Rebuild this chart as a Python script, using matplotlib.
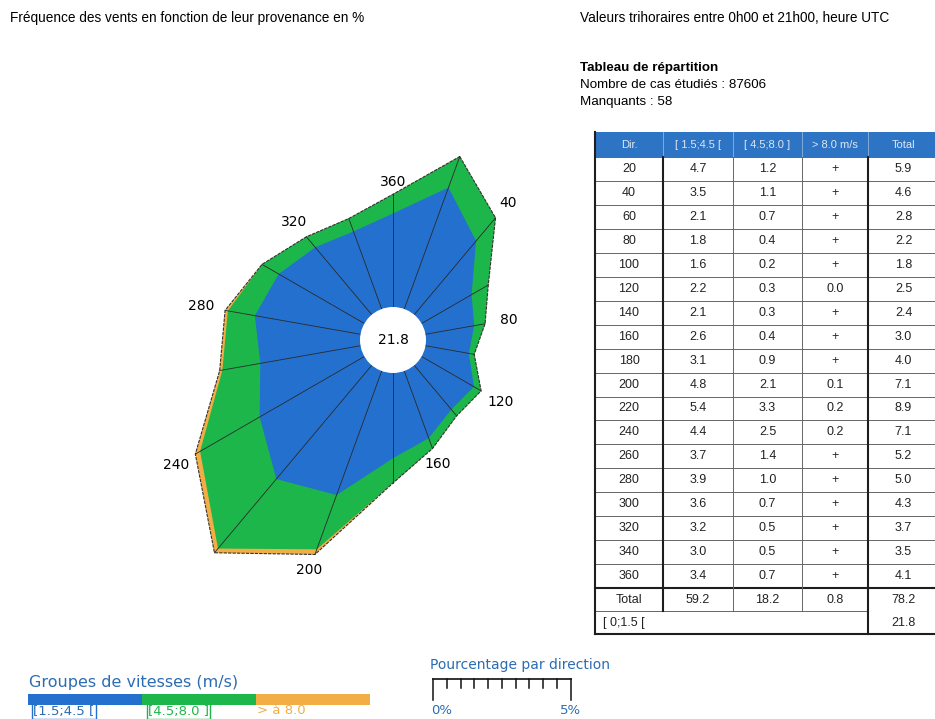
import numpy as np
import matplotlib.pyplot as plt
from matplotlib.patches import Polygon, Circle, Rectangle

# Répartition des vents par direction (%), classes de vitesse
directions = np.arange(20, 361, 20)
speed_low = [4.7, 3.5, 2.1, 1.8, 1.6, 2.2, 2.1, 2.6, 3.1, 4.8, 5.4, 4.4, 3.7, 3.9, 3.6, 3.2, 3.0, 3.4]
speed_mid = [1.2, 1.1, 0.7, 0.4, 0.2, 0.3, 0.3, 0.4, 0.9, 2.1, 3.3, 2.5, 1.4, 1.0, 0.7, 0.5, 0.5, 0.7]
speed_high = ['+', '+', '+', '+', '+', '0.0', '+', '+', '+', '0.1', '0.2', '0.2',
              '+', '+', '+', '+', '+', '+']
totals = [5.9, 4.6, 2.8, 2.2, 1.8, 2.5, 2.4, 3.0, 4.0, 7.1, 8.9, 7.1, 5.2, 5.0, 4.3, 3.7, 3.5, 4.1]
col_totals = ['59.2', '18.2', '0.8', '78.2']
calm = 21.8
header = ['Dir.', '[ 1.5;4.5 [', '[ 4.5;8.0 ]', '> 8.0 m/s', 'Total']
n_cases = 87606
n_missing = 58

BLUE = '#2470cf'
GREEN = '#1db64b'
ORANGE = '#f2ae45'
TXT_BLUE = '#2b6cb3'

W, H = 935, 719
fig = plt.figure(figsize=(W / 100, H / 100), dpi=100)
bg = fig.add_axes([0, 0, 1, 1])
bg.set_xlim(0, W)
bg.set_ylim(H, 0)
bg.axis('off')

sans = 'Liberation Sans'
bg.text(10, 18, 'Fréquence des vents en fonction de leur provenance en %',
        fontsize=9.8, family=sans, va='center')
bg.text(580, 18, 'Valeurs trihoraires entre 0h00 et 21h00, heure UTC',
        fontsize=9.8, family=sans, va='center')
bg.text(580, 68, 'Tableau de répartition', fontsize=9.6, family=sans,
        weight='bold', va='center')
bg.text(580, 85, f'Nombre de cas étudiés : {n_cases}', fontsize=9.6, family=sans, va='center')
bg.text(580, 102, f'Manquants : {n_missing}', fontsize=9.6, family=sans, va='center')

# --- rose des vents ---
k = 27.5          # pixels par %
cx, cy = 393, 340
half = 300
rose = fig.add_axes([(cx - half) / W, (H - cy - half) / H, 2 * half / W, 2 * half / H])
lim = half / k
rose.set_xlim(-lim, lim)
rose.set_ylim(-lim, lim)
rose.axis('off')
rose.patch.set_alpha(0)

r0 = 33 / k
theta = np.deg2rad(directions)


def ring(vals):
    r = r0 + np.asarray(vals, dtype=float)
    return np.column_stack([r * np.sin(theta), r * np.cos(theta)])


low = np.array(speed_low)
mid = low + np.array(speed_mid)
outer = ring(totals)
rose.add_patch(Polygon(outer, closed=True, fc=ORANGE, ec='none'))
rose.add_patch(Polygon(ring(mid), closed=True, fc=GREEN, ec='none'))
rose.add_patch(Polygon(ring(low), closed=True, fc=BLUE, ec='none'))

inner = ring(np.zeros(len(directions)))
for (x0, y0), (x1, y1) in zip(inner, outer):
    rose.plot([x0, x1], [y0, y1], color='#2a2a2a', lw=0.6)
rose.add_patch(Polygon(outer, closed=True, fc='none', ec='#333333', lw=0.8,
                       ls=(0, (3, 1))))
rose.add_patch(Circle((0, 0), r0, fc='white', ec='none', zorder=5))
rose.text(0, 0, f'{calm}', ha='center', va='center', fontsize=10, zorder=6)

for i, d in enumerate(directions):
    if d % 40:
        continue
    s, c = np.sin(theta[i]), np.cos(theta[i])
    r = r0 + totals[i] + (12 + 12 * abs(s)) / k
    rose.text(r * s, r * c, str(d), ha='center', va='center', fontsize=10)

# --- tableau ---
cols = [595, 663, 733, 802, 868, 945]
y_head = 132
y_rows = 157
row_h = 23.95
n = len(directions)
y_tot = y_rows + n * row_h
y_calm = y_tot + 23
y_end = y_calm + 23

bg.add_patch(Rectangle((cols[0], y_head), cols[-1] - cols[0], y_rows - y_head,
                       fc='#2d74c4', ec='none'))
tot_c = (cols[4] + 935) / 2 + 2
for j, h in enumerate(header):
    bg.text((cols[j] + cols[j + 1]) / 2 if j < 4 else tot_c,
            (y_head + y_rows) / 2, h, ha='center', va='center', fontsize=8,
            family=sans, color='#dde7f3')
for x in cols[1:-1]:
    bg.plot([x, x], [y_head, y_rows], color='#8fb3dd', lw=0.6)

cell = dict(ha='center', va='center', fontsize=9, family=sans, color='#222222')
for i, d in enumerate(directions):
    yc = y_rows + (i + 0.5) * row_h
    row = [str(d), f'{speed_low[i]:.1f}', f'{speed_mid[i]:.1f}', speed_high[i]]
    for j, v in enumerate(row):
        bg.text((cols[j] + cols[j + 1]) / 2, yc, v, **cell)
    bg.text(tot_c, yc, f'{totals[i]:.1f}', **cell)
    if i > 0:
        y = y_rows + i * row_h
        bg.plot([cols[0], cols[-1]], [y, y], color='#666666', lw=0.7)

yc = (y_tot + y_calm) / 2
bg.text((cols[0] + cols[1]) / 2, yc, 'Total', **cell)
for j, v in enumerate(col_totals[:3]):
    bg.text((cols[j + 1] + cols[j + 2]) / 2, yc, v, **cell)
bg.text(tot_c, yc, col_totals[3], **cell)
yc = (y_calm + y_end) / 2
bg.text(cols[0] + 8, yc, '[ 0;1.5 [', ha='left', va='center', fontsize=9,
        family=sans, color='#222222')
bg.text(tot_c, yc, f'{calm}', **cell)

thin = dict(color='#666666', lw=0.7)
thick = dict(color='#1e1e1e', lw=1.5)
bg.plot([cols[0], cols[-1]], [y_rows, y_rows], **thin)
bg.plot([cols[0], cols[-1]], [y_tot, y_tot], **thick)
bg.plot([cols[0], cols[4]], [y_calm, y_calm], **thin)
bg.plot([cols[0], cols[-1]], [y_end, y_end], **thick)
bg.plot([cols[0], cols[0]], [y_head, y_end], **thick)
bg.plot([cols[1], cols[1]], [y_rows, y_calm], **thick)
bg.plot([cols[2], cols[2]], [y_rows, y_calm], **thin)
bg.plot([cols[3], cols[3]], [y_rows, y_calm], **thin)
bg.plot([cols[4], cols[4]], [y_rows, y_end], **thick)

# --- légende des vitesses ---
legend_font = 'DejaVu Sans'
bg.text(29, 683, 'Groupes de vitesses (m/s)', fontsize=11.5, family=legend_font,
        color=TXT_BLUE, va='center')
for x0, colr in zip([28, 142, 256], [BLUE, GREEN, ORANGE]):
    bg.add_patch(Rectangle((x0, 694), 114, 10.5, fc=colr, ec='none'))
box = dict(boxstyle='square,pad=0.1', fc='none', lw=1)
bg.text(33, 711, '[1.5;4.5 [', fontsize=9.5, family=legend_font, color=TXT_BLUE,
        va='center', bbox={**box, 'ec': BLUE})
bg.text(148, 711, '[4.5;8.0 ]', fontsize=9.5, family=legend_font, color=GREEN,
        va='center', bbox={**box, 'ec': GREEN})
bg.text(257, 711, '> à 8.0', fontsize=9.5, family=legend_font, color=ORANGE, va='center')

# --- échelle ---
bg.text(430, 665, 'Pourcentage par direction', fontsize=10, family=legend_font,
        color=TXT_BLUE, va='center')
x_0 = 433
scale_pct = 5
ticks = np.linspace(0, scale_pct, 11)
bg.plot([x_0, x_0 + scale_pct * k], [679, 679], color='#111111', lw=1.2)
for t in ticks:
    x = x_0 + t * k
    y1 = 700 if t in (0, scale_pct) else 688
    bg.plot([x, x], [679, y1], color='#111111', lw=1.1)
bg.text(x_0 - 2, 711, '0%', fontsize=9.5, family=legend_font, color=TXT_BLUE, va='center')
bg.text(x_0 + scale_pct * k, 711, f'{scale_pct}%', fontsize=9.5, family=legend_font,
        color=TXT_BLUE, va='center', ha='center')

fig.savefig('out.png', dpi=100)
